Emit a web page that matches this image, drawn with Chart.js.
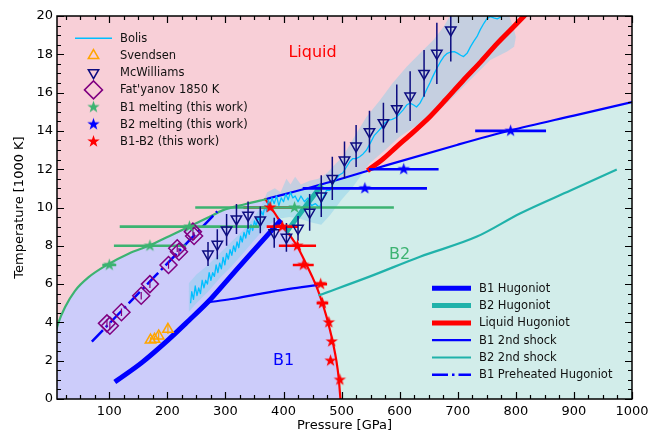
<!DOCTYPE html>
<html>
<head>
<meta charset="utf-8">
<script src="https://cdn.jsdelivr.net/npm/chart.js@4.4.1/dist/chart.umd.min.js"></script>
<style>
html, body { margin: 0; padding: 0; background: #fff; }
</style>
</head>
<body>
<canvas id="chart" width="667" height="437"></canvas>
<script>
// axis ticks
const xTicks = [100, 200, 300, 400, 500, 600, 700, 800, 900, 1000]
const yTicks = [0, 2, 4, 6, 8, 10, 12, 14, 16, 18, 20]

// phase boundaries
const meltB1P = [0, 7, 12, 24, 41, 64, 96, 134, 168, 203, 237, 272, 295, 335, 369]
const meltB1T = [2.7, 3.4, 3.95, 4.8, 5.65, 6.35, 7.0, 7.6, 8.0, 8.5, 9.0, 9.5, 9.85, 10.18, 10.43]
const b1b2P = [369, 385, 399, 412, 424, 439, 450, 459, 467, 474, 480, 486, 491, 495, 498]
const b1b2T = [10.43, 9.7, 9.05, 8.5, 7.95, 7.05, 6.35, 5.7, 5.0, 4.3, 3.6, 2.8, 2.0, 1.1, 0]
const meltB2P = [369, 480, 560, 700, 790, 900, 1000]
const meltB2T = [10.43, 11.33, 12.05, 13.28, 14.02, 14.8, 15.5]

// hugoniots
const hugB1P = [113, 156, 202, 237, 271, 306, 341, 375, 393]
const hugB1T = [0.96, 1.9, 3.1, 4.1, 5.1, 6.3, 7.5, 8.65, 9.26]
const hugB2P = [407, 435, 463]
const hugB2T = [8.8, 9.95, 11.07]
const hugLiqP = [548, 570, 595, 622, 652, 680, 710, 740, 768, 795, 822]
const hugLiqT = [12.0, 12.5, 13.18, 13.9, 14.74, 15.65, 16.66, 17.62, 18.57, 19.4, 20.25]
const shockB1P = [271, 310, 364, 410, 457]
const shockB1T = [5.05, 5.22, 5.52, 5.75, 5.95]
const shockB2P = [462, 548, 635, 733, 808, 895, 972]
const shockB2T = [5.43, 6.39, 7.43, 8.48, 9.7, 10.9, 11.96]
const preheatP = [70, 180, 286]
const preheatT = [3.0, 6.45, 9.8]

// Bolis
const bolisP = [240, 242, 245, 248, 251, 254, 257, 260, 263, 266, 269, 272, 275, 278, 281, 284, 287, 290, 293, 296, 299, 302, 305, 308, 311, 314, 317, 320, 323, 326, 329, 332, 335, 338, 341, 344, 347, 350, 353, 356, 359, 362, 365, 368, 371, 374, 377, 380, 384, 388, 392, 396, 400, 404, 408, 412, 416, 420, 425, 430, 436, 442, 448, 455, 462, 468, 474, 480, 486, 491, 496, 502, 508, 514, 519, 525, 531, 537, 543, 550, 556, 562, 568, 574, 580, 587, 594, 600, 606, 612, 618, 624, 629, 635, 641, 647, 652, 658, 664, 670, 676, 682, 688, 694, 700, 705, 710, 716, 722, 728, 733, 739, 745, 750, 756, 762, 768, 774, 780]
const bolisT = [5.0, 5.6, 5.2, 5.9, 5.4, 5.8, 5.5, 6.2, 5.8, 6.2, 6.0, 6.6, 6.2, 6.6, 6.4, 7.0, 6.6, 7.1, 6.8, 7.4, 7.0, 7.6, 7.3, 7.8, 7.5, 8.0, 7.7, 8.2, 7.9, 8.5, 8.2, 8.7, 8.4, 8.9, 8.6, 9.1, 8.8, 9.3, 9.0, 9.5, 9.3, 9.8, 9.6, 10.1, 9.8, 10.4, 10.1, 10.5, 10.2, 10.6, 10.1, 10.5, 10.3, 10.7, 10.4, 10.8, 10.5, 10.6, 10.3, 10.6, 10.3, 10.5, 10.1, 10.2, 10.0, 10.5, 10.9, 10.9, 11.3, 11.5, 11.7, 11.8, 12.1, 12.4, 12.55, 12.55, 12.65, 12.8, 13.0, 13.4, 13.75, 13.95, 14.15, 14.4, 14.55, 14.6, 14.7, 14.9, 15.1, 15.35, 15.45, 15.35, 15.25, 15.45, 15.8, 16.2, 16.5, 16.9, 17.27, 17.6, 17.88, 18.05, 18.12, 18.14, 18.05, 17.95, 17.88, 18.05, 18.4, 18.7, 18.92, 19.3, 19.62, 19.85, 19.97, 19.9, 19.85, 19.95, 20.1]
const bandTopP = [237, 250, 270, 290, 310, 330, 350, 362, 372, 385, 395, 405, 412, 420, 430, 445, 460, 475, 490, 502, 522, 543, 566, 588, 612, 635, 658, 676, 692]
const bandTopT = [6.05, 6.5, 7.0, 7.6, 8.2, 8.8, 9.5, 10.1, 10.8, 11.0, 10.8, 11.5, 11.2, 11.6, 11.2, 11.4, 11.5, 11.8, 12.3, 12.65, 13.7, 14.74, 15.6, 16.5, 17.35, 18.05, 18.75, 19.45, 20.3]
const bandBotP = [237, 250, 270, 290, 310, 330, 350, 370, 390, 410, 430, 450, 465, 480, 500, 520, 548, 575, 600, 625, 652, 693, 727, 756, 785, 797, 800, 797, 791, 785]
const bandBotT = [4.56, 5.0, 5.6, 6.3, 6.9, 7.6, 8.3, 9.0, 9.4, 9.5, 9.4, 9.2, 9.1, 9.6, 10.4, 11.1, 12.3, 13.0, 13.7, 14.2, 14.6, 15.8, 16.83, 17.7, 18.14, 18.4, 18.9, 19.27, 19.8, 20.3]

// experiments
const svP = [171, 178, 185, 201]
const svT = [3.08, 3.12, 3.29, 3.64]
const svErr = [0.15, 0.15, 0.2, 0.25]
const mcwP = [270, 286, 302, 319, 339, 360, 384, 405, 425, 445, 465, 484, 505, 525, 548, 572, 595, 618, 642, 664, 688]
const mcwT = [7.57, 8.08, 8.83, 9.4, 9.6, 9.35, 8.68, 8.44, 8.91, 9.75, 10.6, 11.52, 12.48, 13.21, 13.96, 14.43, 15.16, 15.82, 17.0, 18.05, 19.27]
const mcwErr = [0.63, 0.78, 0.83, 0.78, 0.71, 0.7, 0.78, 0.75, 0.65, 0.96, 1.09, 1.13, 0.96, 1.1, 1.09, 1.04, 1.26, 1.3, 1.22, 1.6, 1.65]
const fatP = [96, 101, 121, 155, 170, 202, 217, 220, 244, 246]
const fatT = [3.95, 3.83, 4.53, 5.39, 6.0, 7.0, 7.87, 7.69, 8.74, 8.51]
const fatErr = [0.2, 0.2, 0.2, 0.2, 0.2, 0.2, 0.2, 0.2, 0.2, 0.2]

// this work
const obsB1P = [100, 170, 238, 419]
const obsB1T = [7.0, 8.0, 9.0, 10.0]
const obsB1Err = [12, 62, 120, 171]
const obsB2P = [540, 607, 791]
const obsB2T = [11.0, 12.0, 14.0]
const obsB2Err = [107, 60, 61]
const obsB12P = [377, 398, 424, 434, 464, 467, 478, 483, 481, 497]
const obsB12T = [10, 9, 8, 7, 6, 5, 4, 3, 2, 1]
const obsB12Err = [46, 27, 32, 18, 11, 10, 0, 0, 0, 0]

const PINK = '#f8cfd7', LAVENDER = '#ccccfa', MINT = '#d2edea'
const BLUE = '#0000ff', TEAL = '#20b2aa', RED = '#ff0000', GREEN = '#3cb371'
const NAVY = '#0d0d80', ORANGE = '#ffa500', PURPLE = '#800080', BOLIS = '#00bfff'
const FONT = 'DejaVu Sans'

const xy = (xs, ys) => xs.map((x, i) => ({x: x, y: ys[i]}))

function vBars(xs, ys, es) {
    const out = []
    xs.forEach((x, i) => {
        if (!es[i]) return
        out.push({x: x, y: ys[i] - es[i]}, {x: x, y: ys[i] + es[i]}, {x: x, y: null})
    })
    return out
}

function hBars(xs, ys, es) {
    const out = []
    xs.forEach((x, i) => {
        if (!es[i]) return
        out.push({x: x - es[i], y: ys[i]}, {x: x + es[i], y: ys[i]}, {x: x, y: null})
    })
    return out
}

function starImage(color, r) {
    const c = document.createElement('canvas')
    const s = Math.ceil(2 * r + 2)
    c.width = s
    c.height = s
    const g = c.getContext('2d')
    g.translate(s / 2, s / 2)
    g.beginPath()
    for (let k = 0; k < 10; k++) {
        const rr = k % 2 ? r * 0.4 : r
        const a = -Math.PI / 2 + k * Math.PI / 5
        g.lineTo(rr * Math.cos(a), rr * Math.sin(a))
    }
    g.closePath()
    g.fillStyle = color
    g.fill()
    return c
}
const starGreen = starImage(GREEN, 6.5)
const starBlue = starImage(BLUE, 6.5)
const starRed = starImage(RED, 6.5)

// smooth curve through read points
function curve(data, color, width, order, extra) {
    return Object.assign({data: data, borderColor: color, borderWidth: width, pointRadius: 0,
        fill: false, order: order, borderCapStyle: 'square', borderJoinStyle: 'round',
        cubicInterpolationMode: 'monotone'}, extra || {})
}
// straight segments (error bars, noisy trace)
function segs(data, color, width, order, extra) {
    return Object.assign({data: data, borderColor: color, borderWidth: width, pointRadius: 0,
        fill: false, order: order, borderCapStyle: 'butt', borderJoinStyle: 'round'}, extra || {})
}
function markers(data, order, extra) {
    return Object.assign({data: data, showLine: false, order: order, pointBorderWidth: 1.5,
        pointBackgroundColor: 'rgba(0,0,0,0)'}, extra)
}

const bandPoly = xy(bandTopP, bandTopT).concat(xy(bandBotP, bandBotT).reverse())

const datasets = [
    // phase regions
    {data: xy(meltB2P, meltB2T), fill: 'origin', backgroundColor: MINT, borderWidth: 0, pointRadius: 0,
        order: 100, cubicInterpolationMode: 'monotone'},
    {data: xy(meltB1P.concat(b1b2P.slice(1)), meltB1T.concat(b1b2T.slice(1))), fill: 'origin',
        backgroundColor: LAVENDER, borderWidth: 0, pointRadius: 0, order: 99},
    {data: bandPoly, fill: 'shape', backgroundColor: 'rgba(135,206,235,0.45)', borderWidth: 0, pointRadius: 0, order: 98},

    curve(xy(meltB1P, meltB1T), GREEN, 2.2, 90),
    curve(xy(b1b2P, b1b2T), RED, 2.2, 90),
    curve(xy(meltB2P, meltB2T), BLUE, 2.2, 90),
    curve(xy(shockB1P, shockB1T), BLUE, 2.2, 85),
    curve(xy(shockB2P, shockB2T), TEAL, 2.2, 85),
    segs(xy(preheatP, preheatT), BLUE, 2.5, 84, {borderDash: [16, 4, 2.5, 4]}),
    segs(xy(bolisP, bolisT), BOLIS, 1.3, 83),
    curve(xy(hugB1P, hugB1T), BLUE, 5, 80),
    curve(xy(hugB2P, hugB2T), TEAL, 5, 80),
    curve(xy(hugLiqP, hugLiqT), RED, 5, 80),

    // error bars
    segs(vBars(svP, svT, svErr), ORANGE, 1.2, 60),
    segs(vBars(mcwP, mcwT, mcwErr), NAVY, 1.5, 60),
    segs(vBars(fatP, fatT, fatErr), PURPLE, 1.2, 60),
    segs(hBars(obsB1P, obsB1T, obsB1Err), GREEN, 2.6, 60),
    segs(hBars(obsB2P, obsB2T, obsB2Err), BLUE, 2.6, 60),
    segs(hBars(obsB12P, obsB12T, obsB12Err), RED, 2.6, 60),

    // markers
    markers(xy(svP, svT), 50, {pointStyle: 'triangle', pointRadius: 6, pointBorderColor: ORANGE}),
    markers(xy(mcwP, mcwT), 50, {pointStyle: 'triangle', pointRotation: 180, pointRadius: 6, pointBorderColor: NAVY}),
    markers(xy(fatP, fatT), 50, {pointStyle: 'rectRot', pointRadius: 8.5, pointBorderColor: PURPLE}),
    markers(xy(obsB1P, obsB1T), 40, {pointStyle: starGreen, pointRadius: 6}),
    markers(xy(obsB2P, obsB2T), 40, {pointStyle: starBlue, pointRadius: 6}),
    markers(xy(obsB12P, obsB12T), 40, {pointStyle: starRed, pointRadius: 6}),
]

const legendTop = [
    {label: 'Bolis', kind: 'line', color: BOLIS, width: 1.5},
    {label: 'Svendsen', kind: 'point', style: 'triangle', color: ORANGE, radius: 6},
    {label: 'McWilliams', kind: 'point', style: 'triangle', rotation: 180, color: NAVY, radius: 6},
    {label: "Fat'yanov 1850 K", kind: 'point', style: 'rectRot', color: PURPLE, radius: 9},
    {label: 'B1 melting (this work)', kind: 'image', img: starGreen},
    {label: 'B2 melting (this work)', kind: 'image', img: starBlue},
    {label: 'B1-B2 (this work)', kind: 'image', img: starRed},
]
const legendBottom = [
    {label: 'B1 Hugoniot', kind: 'line', color: BLUE, width: 5},
    {label: 'B2 Hugoniot', kind: 'line', color: TEAL, width: 5},
    {label: 'Liquid Hugoniot', kind: 'line', color: RED, width: 5},
    {label: 'B1 2nd shock', kind: 'line', color: BLUE, width: 2.2},
    {label: 'B2 2nd shock', kind: 'line', color: TEAL, width: 2.2},
    {label: 'B1 Preheated Hugoniot', kind: 'line', color: BLUE, width: 2.5, dash: [16, 4, 2.5, 4]},
]

function drawLegend(ctx, items, x0, x1, textX, y0, dy) {
    ctx.font = '11.5px "' + FONT + '"'
    ctx.textBaseline = 'middle'
    ctx.textAlign = 'left'
    items.forEach((it, i) => {
        const y = y0 + i * dy
        const xm = (x0 + x1) / 2
        ctx.save()
        if (it.kind === 'line') {
            ctx.strokeStyle = it.color
            ctx.lineWidth = it.width
            ctx.setLineDash(it.dash || [])
            ctx.beginPath()
            ctx.moveTo(x0, y)
            ctx.lineTo(x1, y)
            ctx.stroke()
        } else if (it.kind === 'point') {
            ctx.strokeStyle = it.color
            ctx.fillStyle = 'rgba(0,0,0,0)'
            ctx.lineWidth = 1.5
            Chart.helpers.drawPoint(ctx, {pointStyle: it.style, rotation: it.rotation || 0, radius: it.radius, borderWidth: 1.5}, xm, y)
        } else {
            ctx.drawImage(it.img, xm - it.img.width / 2, y - it.img.height / 2)
        }
        ctx.restore()
        ctx.fillStyle = '#111'
        ctx.fillText(it.label, textX, y + 0.5)
    })
}

const decor = {
    id: 'decor',
    beforeDatasetsDraw(chart) {
        const {ctx, chartArea: a} = chart
        ctx.save()
        ctx.fillStyle = PINK
        ctx.fillRect(a.left, a.top, a.right - a.left, a.bottom - a.top)
        ctx.restore()
    },
    afterDatasetsDraw(chart) {
        const {ctx, chartArea: a} = chart
        const xs = chart.scales.x, ys = chart.scales.y
        ctx.save()
        // region labels
        ctx.font = '16px "' + FONT + '"'
        ctx.textAlign = 'center'
        ctx.textBaseline = 'middle'
        ctx.fillStyle = RED
        ctx.fillText('Liquid', xs.getPixelForValue(450), ys.getPixelForValue(18.1))
        ctx.fillStyle = BLUE
        ctx.fillText('B1', xs.getPixelForValue(400), ys.getPixelForValue(2.0))
        ctx.fillStyle = GREEN
        ctx.fillText('B2', xs.getPixelForValue(600), ys.getPixelForValue(7.55))

        // inward ticks on all sides
        ctx.strokeStyle = '#000'
        ctx.beginPath()
        for (let k = 1; k <= 40; k++) {
            const px = Math.round(xs.getPixelForValue(k * 25)) + 0.5
            if (px < a.left + 1) continue
            const len = k % 4 === 0 ? 7 : 4
            ctx.moveTo(px, a.bottom); ctx.lineTo(px, a.bottom - len)
            ctx.moveTo(px, a.top); ctx.lineTo(px, a.top + len)
        }
        for (let k = 0; k <= 40; k++) {
            const py = Math.round(ys.getPixelForValue(k / 2)) + 0.5
            const len = k % 4 === 0 ? 7 : 4
            ctx.moveTo(a.left, py); ctx.lineTo(a.left + len, py)
            ctx.moveTo(a.right, py); ctx.lineTo(a.right - len, py)
        }
        ctx.lineWidth = 1.2
        ctx.stroke()
        ctx.lineWidth = 1.5
        ctx.strokeRect(a.left, a.top, a.right - a.left, a.bottom - a.top)

        drawLegend(ctx, legendTop, 75, 112, 120, 38.3, 17.2)
        drawLegend(ctx, legendBottom, 432, 471, 479, 288.3, 17.3)
        ctx.restore()
    }
}

Chart.defaults.font.family = FONT
Chart.defaults.color = '#000'

new Chart(document.getElementById('chart'), {
    type: 'line',
    data: {datasets: datasets},
    options: {
        responsive: false,
        animation: false,
        events: [],
        layout: {padding: {top: 16, right: 35, left: 0, bottom: 0}},
        plugins: {legend: {display: false}, tooltip: {enabled: false}},
        scales: {
            x: {
                type: 'linear', min: 10, max: 1000,
                grid: {display: false, drawTicks: false},
                border: {display: false},
                ticks: {font: {size: 13}, padding: 5, maxRotation: 0, autoSkip: false, callback: v => String(v)},
                title: {display: true, text: 'Pressure [GPa]', font: {size: 13}, padding: {top: 0, bottom: 4}},
                afterBuildTicks: s => { s.ticks = xTicks.map(v => ({value: v})) },
                afterFit: s => { s.height = 38 }
            },
            y: {
                type: 'linear', min: 0, max: 20,
                grid: {display: false, drawTicks: false},
                border: {display: false},
                ticks: {font: {size: 13}, padding: 4, autoSkip: false, callback: v => String(v)},
                title: {display: true, text: 'Temperature [1000 K]', font: {size: 13}, padding: {top: 12, bottom: 0}},
                afterBuildTicks: s => { s.ticks = yTicks.map(v => ({value: v})) },
                afterFit: s => { s.width = 57 }
            }
        }
    },
    plugins: [decor]
})
</script>
</body>
</html>
